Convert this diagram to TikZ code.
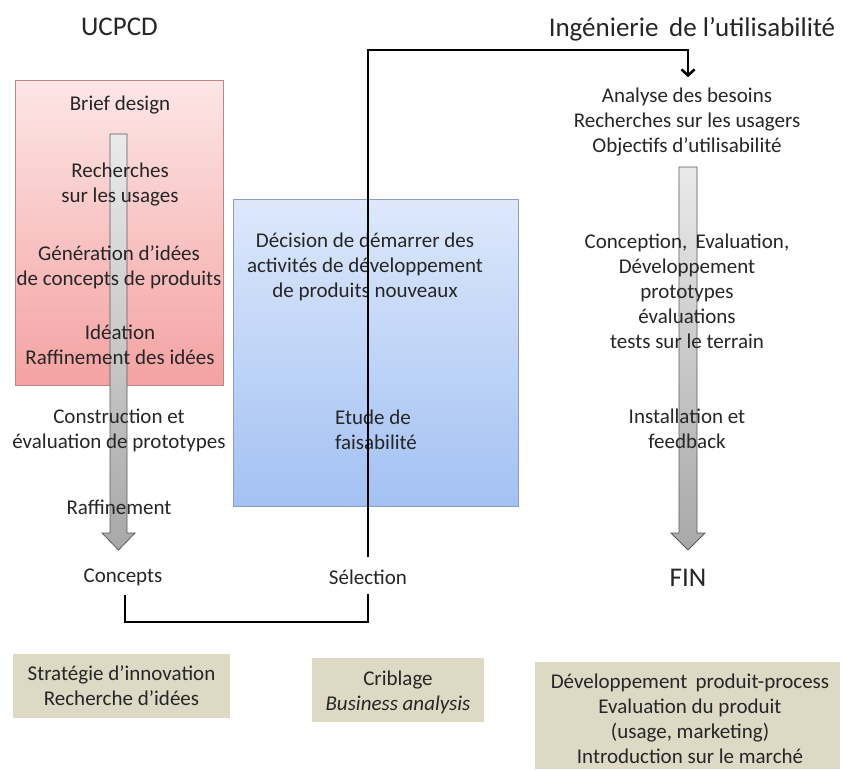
\documentclass[tikz,border=0pt]{standalone}
\usepackage{fontspec}
\setmainfont{Carlito}
\usetikzlibrary{arrows.meta}
\definecolor{txtc}{HTML}{262626}
\definecolor{redtop}{HTML}{FDE6E6}
\definecolor{redbot}{HTML}{F4A2A2}
\definecolor{redline}{HTML}{BF8585}
\definecolor{bluetop}{HTML}{DDE8FB}
\definecolor{bluebot}{HTML}{A3C1F3}
\definecolor{blueline}{HTML}{8A9EC0}
\definecolor{tan}{HTML}{DDD9C4}
\definecolor{arrtop}{HTML}{EAEAEA}
\definecolor{arrbot}{HTML}{A8A8A8}
\definecolor{arrline}{HTML}{5A5A5A}
\tikzset{
  txt/.style={align=center, inner sep=0pt, text=txtc, font=\fontsize{21}{25}\selectfont},
  title/.style={inner sep=0pt, text=txtc, font=\fontsize{27}{32}\selectfont},
  phasebox/.style={rectangle, inner sep=0pt, draw=none},
  tanbox/.style={rectangle, fill=tan, draw=none, inner sep=0pt},
  conn/.style={draw=black, line width=2.6pt},
  bigarrow/.style={draw=arrline, line width=0.8pt, top color=arrtop, bottom color=arrbot}
}
\begin{document}
\begin{tikzpicture}[x=1pt,y=-1pt]
\useasboundingbox[fill=white] (0,0) rectangle (843,769);

% titles
\node[title] (t1) at (119.5,27) {UCPCD};
\node[title] (t2) at (692,29) {Ingénierie\, de l’utilisabilité};

% phase boxes
\node[phasebox, minimum width=208pt, minimum height=305pt, top color=redtop, bottom color=redbot, draw=redline, line width=0.8pt] (ucpcd) at (119,232.5) {};
\node[phasebox, minimum width=285pt, minimum height=307pt, top color=bluetop, bottom color=bluebot, draw=blueline, line width=0.8pt] (blue) at (375.5,352.5) {};

% big gray arrows
\path[bigarrow] (110,134) -- (127,134) -- (127,533) -- (135,533) -- (118.5,550) -- (102,533) -- (110,533) -- cycle;
\path[bigarrow] (679,167) -- (697,167) -- (697,533) -- (705,533) -- (688,550) -- (671,533) -- (679,533) -- cycle;

% left column texts
\node[txt] (brief) at (120,105) {Brief design};
\node[txt] (rech) at (120,184.5) {Recherches\\sur les usages};
\node[txt] (gen) at (119,267.5) {Génération d’idées\\de concepts de produits};
\node[txt] (idea) at (120,345) {Idéation\\Raffinement des idées};
\node[txt] (constr) at (119,430.5) {Construction et\\évaluation de prototypes};
\node[txt] (raff) at (119,507) {Raffinement};
\node[txt] (con) at (123,577) {Concepts};

% middle texts
\node[txt] (deci) at (365,267) {Décision de démarrer des\\activités de développement\\de produits nouveaux};
\node[txt, align=left] (etude) at (376,429.5) {Etude de\\faisabilité};
\node[txt] (sel) at (368,577) {Sélection};

% right column texts
\node[txt] (ana) at (687,122.5) {Analyse des besoins\\Recherches sur les usagers\\Objectifs d’utilisabilité};
\node[txt] (conc) at (687,291) {Conception,\, Evaluation,\\Développement\\prototypes\\évaluations\\tests sur le terrain};
\node[txt] (inst) at (687,428.5) {Installation et\\feedback};
\node[title] (fin) at (688,578) {FIN};

% bottom boxes
\node[tanbox, minimum width=217pt, minimum height=64pt] (b1) at (121.5,686) {};
\node[txt] (b1t) at (121.5,686) {Stratégie d’innovation\\Recherche d’idées};
\node[tanbox, minimum width=172pt, minimum height=64pt] (b2) at (398,690) {};
\node[txt] (b2t) at (398,692) {Criblage\\\textit{Business analysis}};
\node[tanbox, minimum width=305pt, minimum height=107pt, anchor=north west] (b3) at (535,662) {};
\node[txt] (b3t) at (690,718.5) {Développement\, produit-process\\Evaluation du produit\\(usage, marketing)\\Introduction sur le marché};

% connectors
\coordinate (bend) at (368,50);
\draw[conn, -{Straight Barb[length=6pt,width=13pt]}] ([yshift=12pt]sel.north) -- (bend) -| ([xshift=1pt,yshift=11pt]ana.north);
\coordinate (low) at (125,622);
\draw[conn] ([xshift=2pt,yshift=-9pt]con.south) -- (low) -| ([yshift=-9pt]sel.south);
\end{tikzpicture}
\end{document}
